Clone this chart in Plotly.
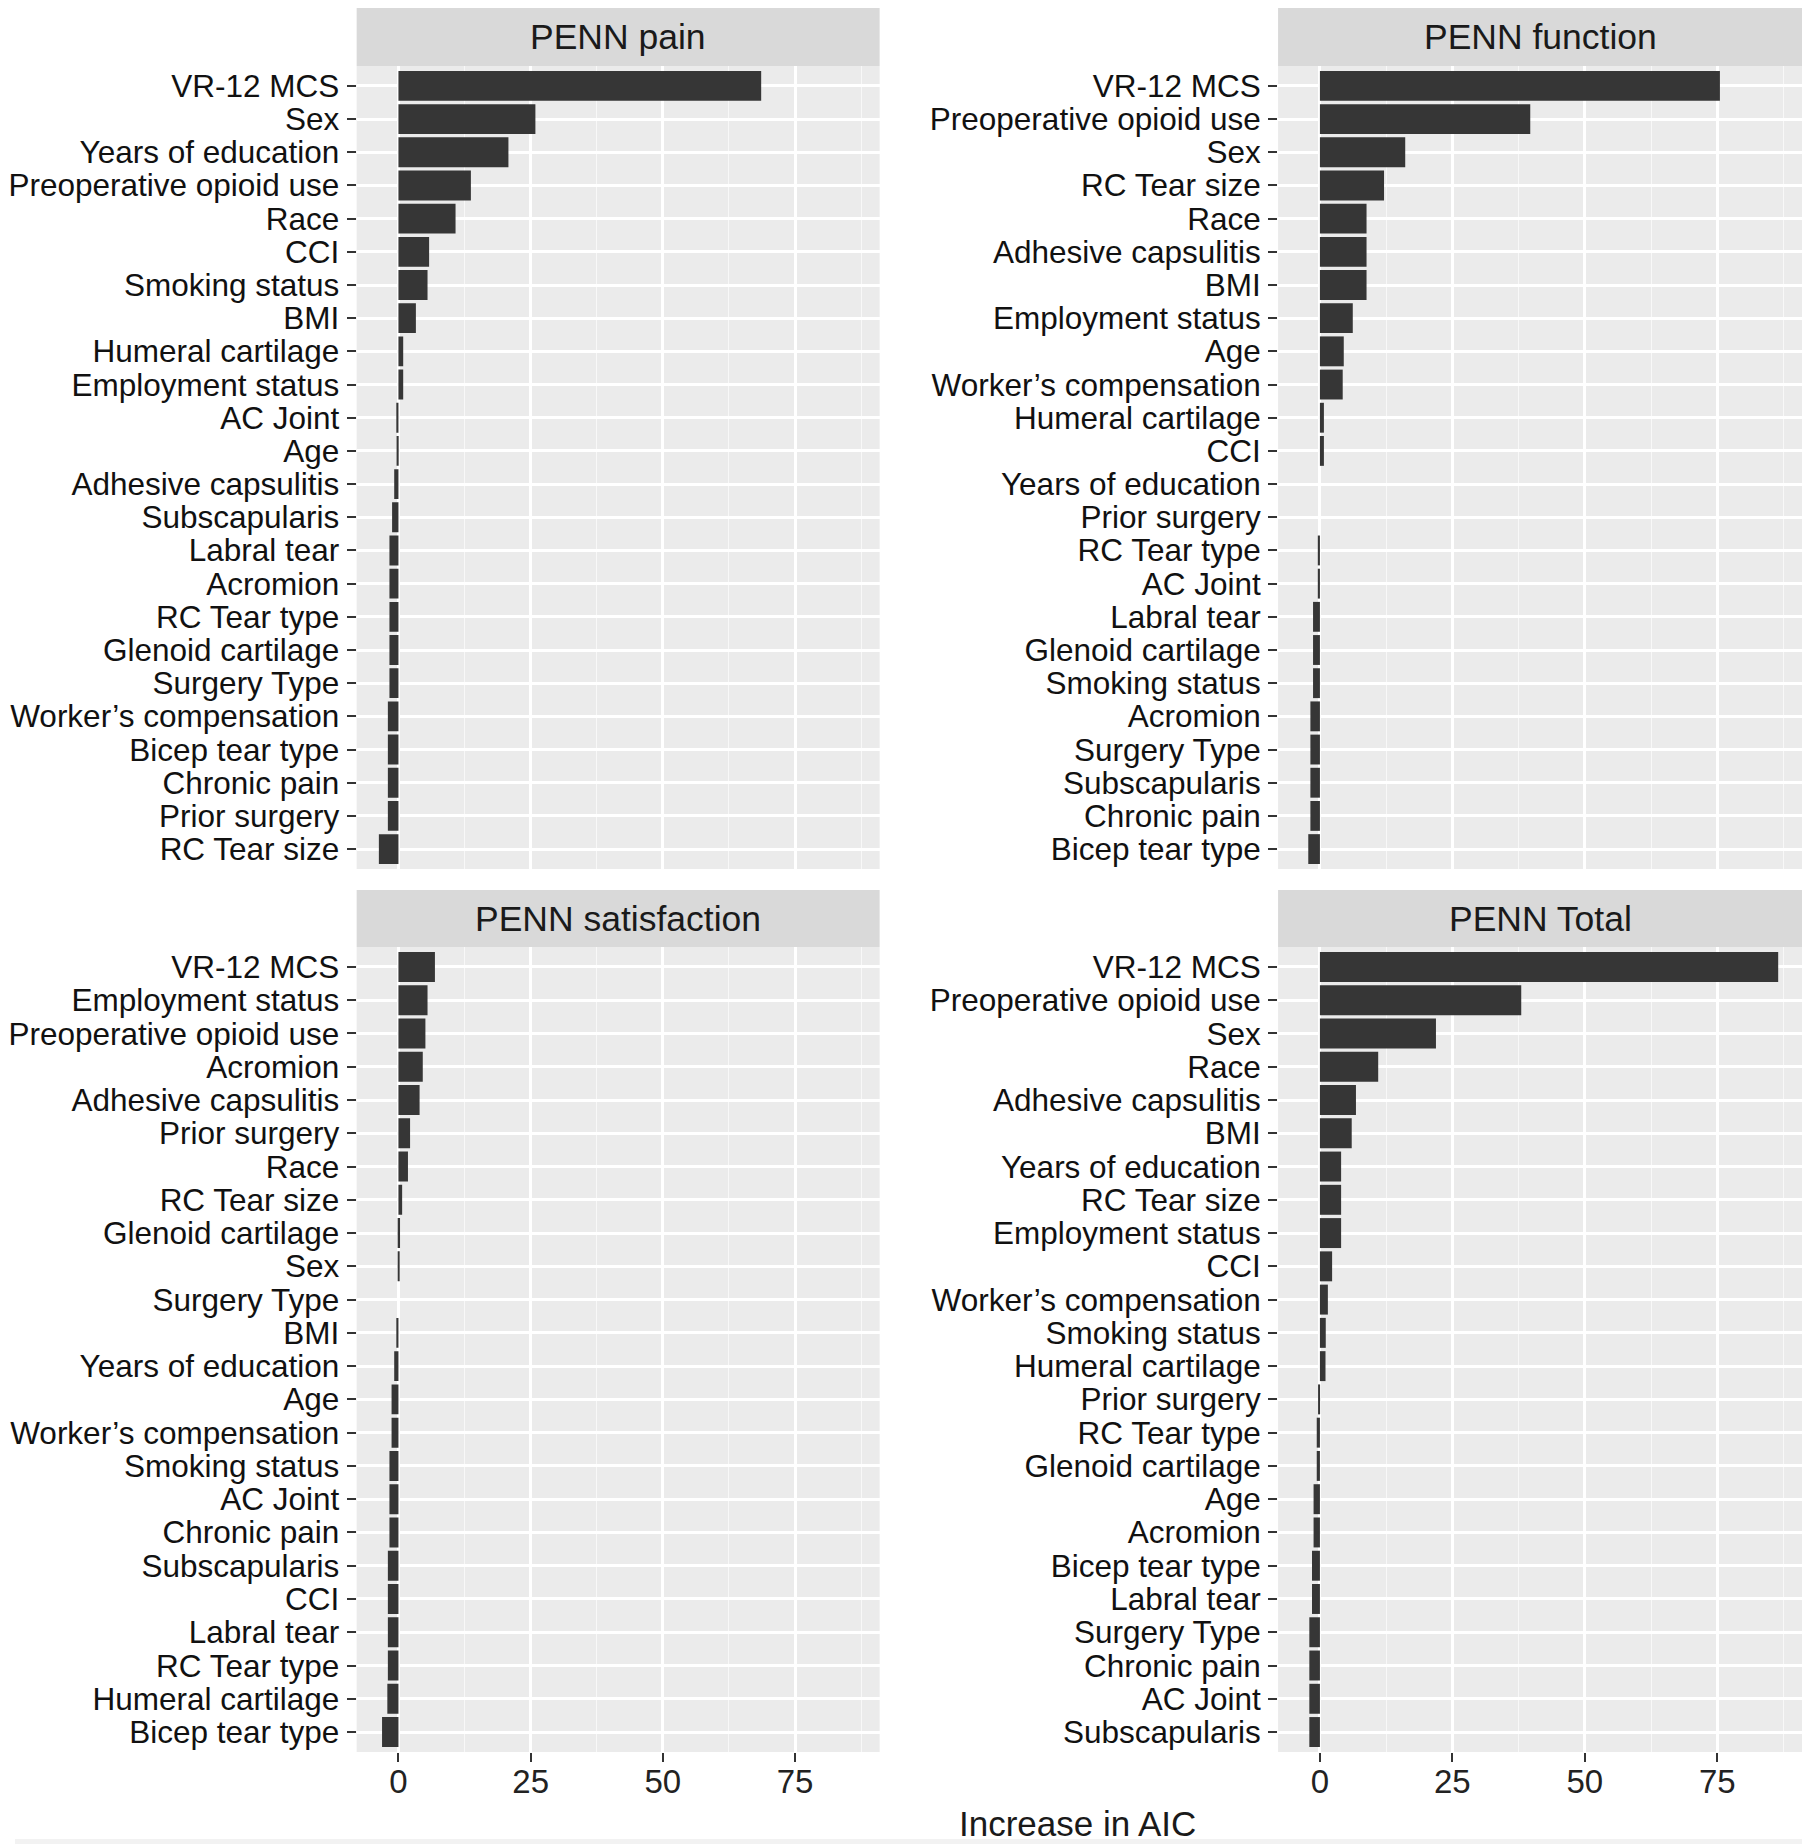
import plotly.graph_objects as go

# The page adds an 8px body margin, so the figure is placed at (8, 8) in the window.
OX, OY = 8, 8
W, H = 1810 - OX, 1844 - OY

panel_titles = ["PENN pain", "PENN function", "PENN satisfaction", "PENN Total"]

pain_labels = ["VR-12 MCS", "Sex", "Years of education", "Preoperative opioid use", "Race", "CCI",
               "Smoking status", "BMI", "Humeral cartilage", "Employment status", "AC Joint", "Age",
               "Adhesive capsulitis", "Subscapularis", "Labral tear", "Acromion", "RC Tear type",
               "Glenoid cartilage", "Surgery Type", "Worker\u2019s compensation", "Bicep tear type",
               "Chronic pain", "Prior surgery", "RC Tear size"]
pain_values = [68.6, 25.9, 20.8, 13.7, 10.8, 5.8, 5.5, 3.3, 0.9, 0.9, -0.4, -0.35, -0.8, -1.2,
               -1.7, -1.7, -1.7, -1.7, -1.7, -2.0, -2.0, -2.0, -2.0, -3.7]

function_labels = ["VR-12 MCS", "Preoperative opioid use", "Sex", "RC Tear size", "Race",
                   "Adhesive capsulitis", "BMI", "Employment status", "Age", "Worker\u2019s compensation",
                   "Humeral cartilage", "CCI", "Years of education", "Prior surgery", "RC Tear type",
                   "AC Joint", "Labral tear", "Glenoid cartilage", "Smoking status", "Acromion",
                   "Surgery Type", "Subscapularis", "Chronic pain", "Bicep tear type"]
function_values = [75.5, 39.7, 16.1, 12.1, 8.8, 8.8, 8.8, 6.2, 4.5, 4.3, 0.75, 0.75, 0.0, 0.0,
                   -0.4, -0.4, -1.3, -1.3, -1.3, -1.8, -1.8, -1.8, -1.8, -2.2]

satisfaction_labels = ["VR-12 MCS", "Employment status", "Preoperative opioid use", "Acromion",
                       "Adhesive capsulitis", "Prior surgery", "Race", "RC Tear size", "Glenoid cartilage",
                       "Sex", "Surgery Type", "BMI", "Years of education", "Age",
                       "Worker\u2019s compensation", "Smoking status", "AC Joint", "Chronic pain",
                       "Subscapularis", "CCI", "Labral tear", "RC Tear type", "Humeral cartilage",
                       "Bicep tear type"]
satisfaction_values = [6.9, 5.5, 5.1, 4.6, 4.0, 2.2, 1.8, 0.7, 0.3, 0.2, 0.0, -0.4, -0.8, -1.3,
                       -1.3, -1.7, -1.7, -1.7, -2.0, -2.0, -2.0, -2.0, -2.1, -3.1]

total_labels = ["VR-12 MCS", "Preoperative opioid use", "Sex", "Race", "Adhesive capsulitis", "BMI",
                "Years of education", "RC Tear size", "Employment status", "CCI",
                "Worker\u2019s compensation", "Smoking status", "Humeral cartilage", "Prior surgery",
                "RC Tear type", "Glenoid cartilage", "Age", "Acromion", "Bicep tear type", "Labral tear",
                "Surgery Type", "Chronic pain", "AC Joint", "Subscapularis"]
total_values = [86.5, 38.0, 21.9, 11.0, 6.8, 6.0, 4.0, 4.0, 4.0, 2.3, 1.5, 1.1, 1.05, -0.3,
                -0.6, -0.6, -1.2, -1.2, -1.5, -1.5, -2.0, -2.0, -2.0, -2.0]

x_ticks = [0, 25, 50, 75]
x_minor = [12.5, 37.5, 62.5, 87.5]
x_title = "Increase in AIC"

panels = [
    (pain_labels, pain_values),
    (function_labels, function_values),
    (satisfaction_labels, satisfaction_values),
    (total_labels, total_values),
]

# pixel layout in window coordinates (top-down)
col_x = [(351, 876), (1276, 1802)]
row_y = [(66, 869), (947, 1752)]
strip_y = [(8, 66), (890, 947)]


def px_x(v):
    return (v - OX) / W


def px_y(v):
    return 1 - (v - OY) / H


FONT = "Liberation Sans, Arial, Helvetica, sans-serif"
BAR = "#363636"
PANEL_BG = "#EBEBEB"
STRIP_BG = "#D9D9D9"

fig = go.Figure()
shapes = [
    dict(type="rect", xref="paper", yref="paper", x0=0, x1=1, y0=0, y1=px_y(1839),
         fillcolor="#F2F2F2", line=dict(width=0), layer="below"),
    dict(type="rect", xref="paper", yref="paper", x0=px_x(1806), x1=1, y0=0, y1=1,
         fillcolor="#F2F2F2", line=dict(width=0), layer="below"),
]
annotations = []

for i, (labels, values) in enumerate(panels):
    r, c = divmod(i, 2)
    n = i + 1
    xa = "x" if n == 1 else f"x{n}"
    ya = "y" if n == 1 else f"y{n}"
    fig.add_trace(go.Bar(x=values, y=labels, orientation="h", xaxis=xa, yaxis=ya,
                         marker=dict(color=BAR, line=dict(width=0)), width=0.9,
                         showlegend=False, hoverinfo="x+y"))
    x0, x1 = col_x[c]
    y0, y1 = row_y[r]
    s0, s1 = strip_y[r]
    xkey = "xaxis" if n == 1 else f"xaxis{n}"
    ykey = "yaxis" if n == 1 else f"yaxis{n}"
    fig.layout[xkey] = dict(
        domain=[px_x(x0), px_x(x1)], anchor=ya, range=[-7.9, 91.0],
        tickmode="array", tickvals=x_ticks, ticktext=[str(t) for t in x_ticks],
        showticklabels=(r == 1), ticks=("outside" if r == 1 else ""), ticklen=9, tickwidth=2,
        tickcolor="#333333", tickfont=dict(family=FONT, size=33, color="#222222"),
        ticklabelstandoff=-9,
        showgrid=True, gridcolor="white", gridwidth=2.5, zeroline=False, showline=False,
        minor=dict(tickmode="array", tickvals=x_minor, showgrid=True, gridcolor="#F8F8F8",
                   gridwidth=1.2, ticks=""),
        fixedrange=True,
    )
    fig.layout[ykey] = dict(
        domain=[px_y(y1), px_y(y0)], anchor=xa, type="category",
        categoryorder="array", categoryarray=list(reversed(labels)),
        tickmode="array", tickvals=labels, ticktext=labels,
        range=[-0.6, len(labels) - 0.4],
        ticks="outside", ticklen=9, tickwidth=2, tickcolor="#333333",
        tickfont=dict(family=FONT, size=31.5, color="#111111"), ticklabelstandoff=1,
        showgrid=True, gridcolor="white", gridwidth=2.5, zeroline=False, showline=False,
        fixedrange=True,
    )
    shapes.append(dict(type="rect", xref="paper", yref="paper", x0=px_x(x0), x1=px_x(x1),
                       y0=px_y(y1), y1=px_y(y0), fillcolor=PANEL_BG, line=dict(width=0),
                       layer="below"))
    shapes.append(dict(type="rect", xref="paper", yref="paper", x0=px_x(x0), x1=px_x(x1),
                       y0=px_y(s1), y1=px_y(s0), fillcolor=STRIP_BG, line=dict(width=0),
                       layer="below"))
    annotations.append(dict(text=panel_titles[i], xref="paper", yref="paper",
                            x=px_x((x0 + x1) / 2), y=px_y((s0 + s1) / 2), showarrow=False,
                            xanchor="center", yanchor="middle",
                            font=dict(family=FONT, size=35.5, color="#1a1a1a")))

annotations.append(dict(text=x_title, xref="paper", yref="paper", x=px_x(1075), y=px_y(1823),
                        showarrow=False, xanchor="center", yanchor="middle",
                        font=dict(family=FONT, size=35, color="#1a1a1a")))

fig.update_layout(
    width=W, height=H, margin=dict(l=0, r=0, t=0, b=0),
    paper_bgcolor="white", plot_bgcolor="rgba(0,0,0,0)",
    shapes=shapes, annotations=annotations, bargap=0.1,
)

fig.write_html("out.html")
